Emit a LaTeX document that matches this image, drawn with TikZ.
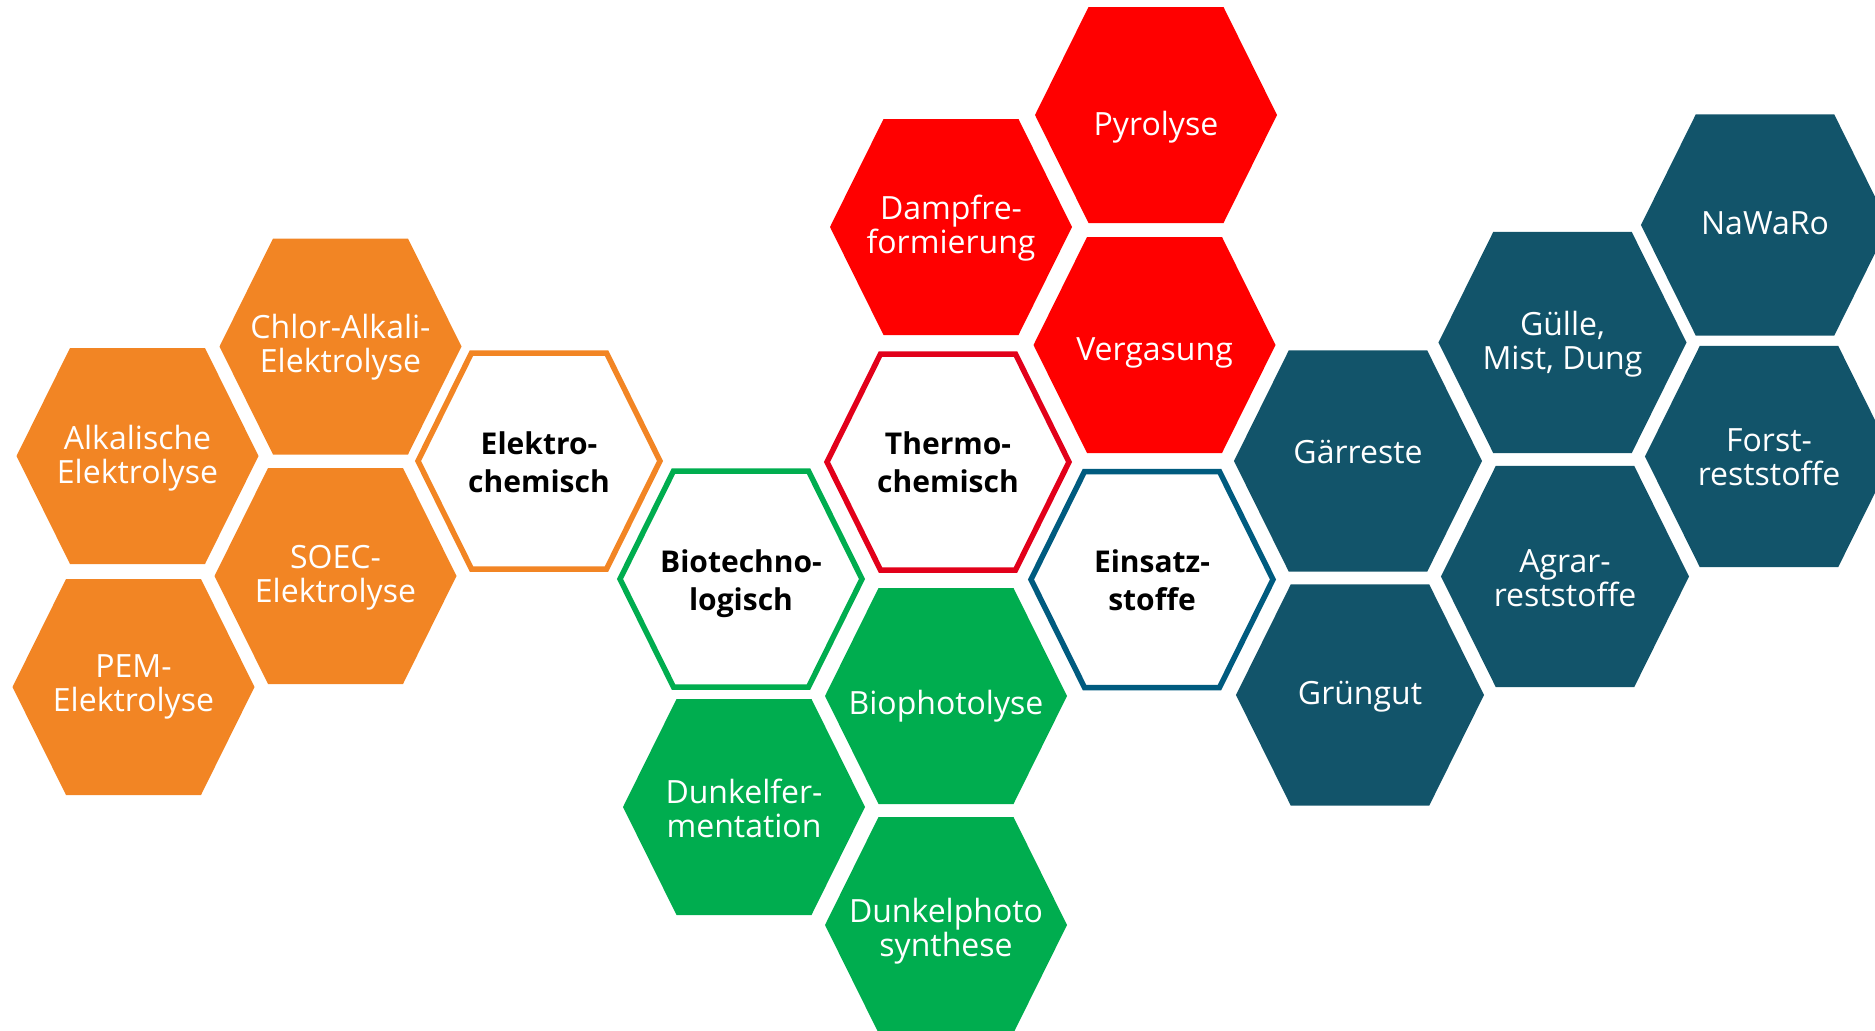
\documentclass[tikz,border=0pt]{standalone}
\usepackage{fontspec}
\setmainfont{Open Sans}
\definecolor{orangeH}{HTML}{F28524}
\definecolor{greenH}{HTML}{00AD4F}
\definecolor{redH}{HTML}{FF0000}
\definecolor{blueH}{HTML}{12546A}
\definecolor{ringred}{HTML}{E2001A}
\definecolor{ringblue}{HTML}{005B7F}
\tikzset{
  pics/hexa/.style={code={\path[pic actions] (-121,0) -- (-67.5,-108) -- (67.5,-108) -- (121,0) -- (67.5,108) -- (-67.5,108) -- cycle;}},
  ring/.style={draw=#1, fill=white, line width=5.5pt},
  lbl/.style={text=white, align=center, inner sep=0pt, font=\fontsize{32}{34}\selectfont},
  headlbl/.style={text=black, align=center, inner sep=0pt, font=\fontsize{30}{38}\selectfont\bfseries},
}
\begin{document}
\begin{tikzpicture}[x=1pt, y=-1pt]
\useasboundingbox (0,0) rectangle (1875,1031);

% elektrochemisch
\foreach \x/\y/\n/\t/\d in {340.5/346.5/chlor/{Chlor-Alkali-\\Elektrolyse}/1,
    137.5/456/alkal/{Alkalische\\Elektrolyse}/2,
    335.5/576/soec/{SOEC-\\Elektrolyse}/2,
    133.5/687/pem/{PEM-\\Elektrolyse}/0}{
  \pic[fill=orangeH] at (\x,\y) {hexa};
  \node[lbl] (\n) at (\x,\y+\d) {\t};
}
\pic[ring=orangeH] at (539,461) {hexa};
\node[headlbl] (elektro) at (539,462) {Elektro-\\chemisch};

% biotechnologisch
\foreach \x/\y/\n/\t/\d in {946/696/bioph/{Biophotolyse}/10,
    744/807/dunkelf/{Dunkelfer-\\mentation}/1,
    946/925/dunkelp/{Dunkelphoto\\synthese}/6}{
  \pic[fill=greenH] at (\x,\y) {hexa};
  \node[lbl] (\n) at (\x,\y+\d) {\t};
}
\pic[ring=greenH] at (741,579) {hexa};
\node[headlbl] (biotech) at (741,584) {Biotechno-\\logisch};

% thermochemisch
\foreach \x/\y/\n/\t/\d in {1156/115/pyro/{Pyrolyse}/12,
    951/227/dampf/{Dampfre-\\formierung}/1,
    1154.5/345/verg/{Vergasung}/8}{
  \pic[fill=redH] at (\x,\y) {hexa};
  \node[lbl] (\n) at (\x,\y+\d) {\t};
}
\pic[ring=ringred] at (948,462) {hexa};
\node[headlbl] (thermo) at (948,462) {Thermo-\\chemisch};

% einsatzstoffe
\foreach \x/\y/\n/\t/\d in {1358/461/gaer/{Gärreste}/-9,
    1360/695/gruen/{Grüngut}/2,
    1562.5/342.5/guelle/{Gülle,\\Mist, Dung}/2,
    1565/576.5/agrar/{Agrar-\\reststoffe}/2,
    1765/225/nawaro/{NaWaRo}/-2,
    1769/456.5/forst/{Forst-\\reststoffe}/1}{
  \pic[fill=blueH, scale=1.025] at (\x,\y) {hexa};
  \node[lbl] (\n) at (\x,\y+\d) {\t};
}
\pic[ring=ringblue] at (1152,579.5) {hexa};
\node[headlbl] (einsatz) at (1152,580.5) {Einsatz-\\stoffe};

\end{tikzpicture}
\end{document}
